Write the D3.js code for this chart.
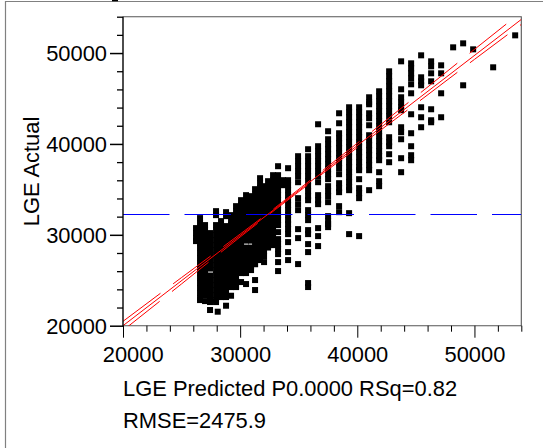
<!DOCTYPE html>
<html><head><meta charset="utf-8">
<script src="https://cdn.jsdelivr.net/npm/d3@7"></script>
<style>html,body{margin:0;padding:0;background:#fff}svg{display:block}text{font-family:"Liberation Sans",Arial,sans-serif;fill:#000}</style>
</head><body><div id="c"></div>
<script>
const xLabel = "LGE Predicted P0.0000 RSq=0.82";
const statLabel = "RMSE=2475.9";
const yLabel = "LGE Actual";
const majorTicks = [20000,30000,40000,50000];
const minorTicks = [22000,24000,26000,28000,32000,34000,36000,38000,42000,44000,46000,48000,52000,54000];
const meanActual = 32240;
const fitX = [20000,54000];
const fitY = [20000,53700];
const bandX = [20000,25000,30000,33000,36000,40000,45000,50000,54000];
const bandUpper = [20480,25300,30080,33000,36020,40080,45220,50400,54500];
const bandLower = [19480,24600,29760,32770,35720,39600,44420,49300,53150];
const predicted = [26234,26576,27003,27430,27942,28087,28369,28796,29224,29650,30077,30504,30931,31273,31700,32041,32383,32810,33237,33664,34091,34945,35799,36653,37507,38446,39300,40155,41009,41863,42717,43741,44595,45449,46303,47157,48182,49036,49890,51598,53477];
const actual = [
[30740,30190,29640,29310],
[31840,31290,30740,30190,29640,29090,28540,27990,27440,26890,26340,25790,25240,24690,24140,23590,23040,22820],
[31070,30520,29970,29420,28870,28320,27770,27220,26670,26120,25570,25020,24470,23920,23370,22710],
[30190,29640,29090,28540,27990,27440,26890,26288,25518,25240,24690,24140,23590,23040,22600,21725],
[32605,32166,31070,30520,29970,29420,28870,28320,27770,27220,26670,26120,25570,25020,24470,23920,23370,22820,22600],
[21540],
[31510,30960,30410,29860,29310,28760,28210,27660,27110,26560,26010,25460,24910,24360,23810,23260,23150],
[32495,32056,30960,30410,29860,29310,28760,28210,27660,27110,26560,26010,25460,24910,24360,23810,23260,23150,22198],
[32166,31620,31070,30520,29970,29420,28870,28320,27770,27220,26670,26120,25570,25020,24470,24250,23297],
[33155,32610,32060,31510,30960,30410,29860,29310,28760,28210,27660,27110,26560,26010,25460,24910,24360,24250],
[33814,33265,32715,32166,31616,31066,30517,29967,29418,28868,28319,27769,27220,26670,26121,25791,24802],
[34364,33814,33265,32715,32166,31616,31066,30517,29967,29363,28594,28319,27769,27220,26670,26121,25791,24583],
[34254,33700,33155,32610,32060,31510,30960,30410,29860,29363,28594,28210,27660,27110,26560,26120],
[35023,34470,33920,33370,32820,32270,31720,31170,30620,30070,29520,28970,28420,27870,27320,26770,26780,25022,23923],
[36232,35680,35130,34580,34030,33480,32930,32380,31830,31280,30730,30180,29630,29080,28530,27980,27430,27220],
[35353,34800,34250,33700,33150,32600,32050,31500,30950,30400,29850,29300,28750,28200,27650,27000],
[35902,35350,34800,34250,33700,33150,32600,32050,31500,30950,30400,29850,29300,28750,28600],
[36562,36012,35462,34913,34364,33814,33265,32715,32166,31616,31066,30517,29967,29418,28868,29000],
[37550,36562,36012,35462,34913,34364,33814,33265,32715,32166,31616,31066,30297,29528,28978,28429,27879,26999,26011],
[36012,35462],
[37331,36010,35460,34910,34360,33810,33270,32720,32170,31620,31180,30627,30078,29198,28099,27220],
[38650,38100,37550,37000,36450,35790,34034,33374,32715,30627,29638,26780],
[39419,38650,38100,37550,37000,36450,35900,35350,34800,34250,33810,32715,32166,31616,30517,30078,28980,28099,24692,24253],
[42166,39749,39200,38650,38100,37550,37000,36450,35790,34364,33814,33374,30737,29858,28760],
[41397,40518,39969,39419,38870,38320,37770,37221,36671,36122,35353,34803,34254,33594,32056,31506,31176,30847],
[43375,42276,41177,40628,40078,39529,38979,38430,37880,37331,36671,35682,35133,34693,33155,32495],
[44035,43485,42936,42386,41837,41287,40738,40188,39639,39089,38540,37990,37441,36891,36341,35792,35243,34913,32385,30078],
[44035,43485,42936,42386,41837,41287,40738,40188,39639,39089,38540,37990,37441,37111,36122,35133,34583,34034,29858],
[45134,44584,44365,43375,42826,42056,40958,40408,39859,39309,38760,38210,37661,37111,34913],
[45793,45244,44694,44145,43595,43046,42496,41947,41397,40847,40298,39749,39200,38650,38210,36891,35902,35353],
[47991,47442,46892,46343,45793,45244,44694,44145,43595,43046,42386,40738,40188,39749,38870,37990],
[49090,46013,45134,44584,44035,43705,41837,41287,40518,38430,36891],
[48870,48321,47771,47222,46562,45573,43265,41177,39749,38760,38210],
[49750,47332,46892,46453,44035,42936,41837],
[49090,48541,47771,46892,43815,42606,42386],
[48651,47771,45573,42936],
[50629],
[51068,46453],
[50409],
[48431],
[51948]
];

const W = 543, H = 448;
const svg = d3.select("#c").append("svg").attr("width",W).attr("height",H);
const x = d3.scaleLinear().domain([20000,54000]).range([123,521.3]);
const y = d3.scaleLinear().domain([20000,54000]).range([325.7,16.7]);

svg.append("path").attr("d","M5.5,448V1.5H543").attr("fill","none").attr("stroke","#808080").attr("stroke-width",1.2);
svg.append("rect").attr("x",112).attr("y",0).attr("width",6).attr("height",1.3).attr("fill","#000");

svg.append("clipPath").attr("id","plot").append("rect").attr("x",123).attr("y",16.7).attr("width",398.3).attr("height",309);

const ms = 6;
const pts = predicted.flatMap((p,i)=>actual[i].map(a=>[p,a]));
svg.append("g").selectAll("rect").data(pts).join("rect")
  .attr("x",d=>x(d[0])-ms/2).attr("y",d=>y(d[1])-ms/2).attr("width",ms).attr("height",ms).attr("fill","#000");

svg.append("path").attr("d",`M${x(20000)},${y(54000)}H${x(54000)}V${y(20000)}H${x(20000)}`).attr("fill","none").attr("stroke","#555").attr("stroke-width",1.1);

const g = svg.append("g").attr("clip-path","url(#plot)");
g.append("line").attr("x1",x(20000)).attr("x2",x(54000)).attr("y1",y(meanActual)).attr("y2",y(meanActual))
  .attr("stroke","#0000ff").attr("stroke-width",1.1).attr("stroke-dasharray","46.5 15");
g.append("line").attr("x1",x(fitX[0])).attr("y1",y(fitY[0])).attr("x2",x(fitX[1])).attr("y2",y(fitY[1]))
  .attr("stroke","#ff0000").attr("stroke-width",1);
const band = d3.line().x((d,i)=>x(bandX[i])).y(d=>y(d)).curve(d3.curveMonotoneX);
[bandUpper,bandLower].forEach(b=>g.append("path").attr("d",band(b)).attr("fill","none")
  .attr("stroke","#ff0000").attr("stroke-width",1).attr("stroke-dasharray","46.8 15.8"));

const fontSize = 21.9;
function style(a,w){a.select(".domain").remove();a.selectAll("line").attr("stroke","#000").attr("stroke-width",w);}
const yMinor = svg.append("g").attr("transform",`translate(${x(20000)},0)`).call(d3.axisLeft(y).tickValues(minorTicks).tickSize(6).tickFormat(""));
style(yMinor,1.3);
const yMajor = svg.append("g").attr("transform",`translate(${x(20000)},0)`).call(d3.axisLeft(y).tickValues(majorTicks).tickSize(13).tickPadding(3).tickFormat(d3.format("d")));
style(yMajor,1.5);
yMajor.selectAll("text").attr("font-size",fontSize).attr("dy",null).attr("y",7.8).attr("x",-16);
const xMinor = svg.append("g").attr("transform",`translate(0,${y(20000)})`).call(d3.axisBottom(x).tickValues(minorTicks).tickSize(6).tickFormat(""));
style(xMinor,1);
const xMajor = svg.append("g").attr("transform",`translate(0,${y(20000)})`).call(d3.axisBottom(x).tickValues(majorTicks).tickSize(12).tickFormat(d3.format("d")));
style(xMajor,1);
xMajor.selectAll("text").attr("font-size",fontSize).attr("dy",null).attr("y",36.3).attr("dx",d=>d===20000?9.7:0);
svg.append("line").attr("x1",x(20000)).attr("x2",x(20000)).attr("y1",y(54000)).attr("y2",y(20000)+0.5).attr("stroke","#000").attr("stroke-width",1.4);

svg.append("text").attr("x",123).attr("y",395.7).attr("font-size",fontSize).text(xLabel);
svg.append("text").attr("x",123).attr("y",428).attr("font-size",fontSize).text(statLabel);
svg.append("text").attr("transform","translate(39,171.5) rotate(-90)").attr("text-anchor","middle").attr("font-size",fontSize).text(yLabel);
</script></body></html>
